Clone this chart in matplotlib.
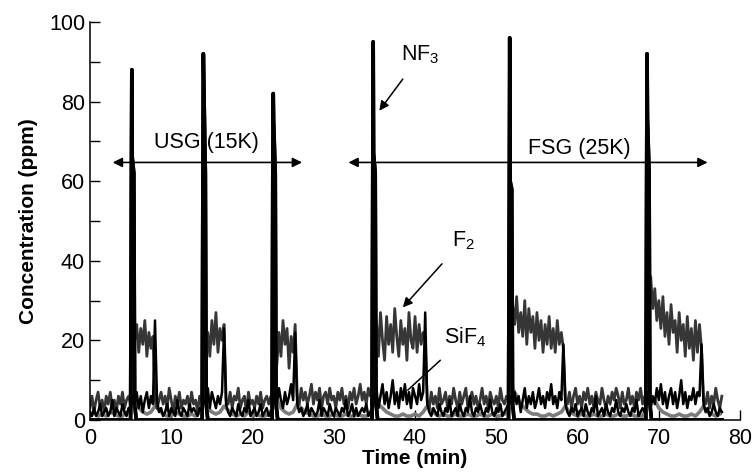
"""
NF3 remote clean of USG and FSG chambers
========================================

Gas concentrations measured in the exhaust during the clean cycles.
"""

import numpy as np
import matplotlib.pyplot as plt

#########################################################################
# Data
# -----------------------
#

# sampling grid of the FTIR traces (min)
time_fine = np.arange(0, 78, 0.25)
time_coarse = np.arange(0, 78, 0.5)

# F2, one row per minute (4 samples / min)
f2_ppm = [
    3, 6, 2, 5,  7, 3, 5, 2,  6, 4, 7, 3,  5, 2, 6, 4,  7, 3, 5, 6,
    4, 6, 20, 24,  17, 23, 19, 25,  16, 22, 18, 21,  5, 3, 5, 7,  4, 6, 3, 8,
    5, 2, 6, 4,  7, 3, 5, 4,  6, 3, 7, 4,  5, 2, 6, 5,  8, 18, 22, 16,
    25, 19, 27, 17,  23, 20, 24, 5,  4, 7, 3, 6,  5, 8, 3, 5,  6, 2, 7, 4,
    5, 3, 6, 4,  7, 3, 5, 6,  4, 6, 5, 8,  14, 22, 16, 25,  19, 23, 13, 21,
    17, 24, 6, 4,  8, 5, 7, 4,  6, 9, 4, 7,  5, 8, 3, 6,  7, 4, 8, 5,
    6, 3, 7, 5,  8, 4, 6, 3,  7, 5, 8, 4,  6, 9, 5, 7,  4, 8, 6, 7,
    18, 25, 16, 27,  20, 15, 26, 19,  24, 17, 28, 21,  16, 25, 19, 23,  15, 27, 20, 18,
    26, 17, 24, 19,  22, 20, 5, 3,  7, 4, 6, 3,  8, 4, 5, 7,  3, 6, 4, 8,
    5, 3, 7, 4,  6, 8, 3, 5,  7, 4, 6, 3,  5, 8, 4, 6,  3, 7, 5, 4,
    6, 3, 8, 5,  4, 6, 5, 20,  29, 24, 31, 22,  27, 21, 30, 19,  28, 22, 26, 18,
    27, 20, 25, 17,  24, 19, 26, 18,  23, 17, 25, 19,  22, 18, 5, 4,  7, 3, 6, 8,
    4, 6, 3, 7,  5, 8, 4, 6,  3, 7, 5, 4,  8, 5, 3, 6,  4, 7, 5, 8,
    6, 3, 7, 4,  5, 8, 4, 6,  3, 7, 5, 8,  4, 6, 5, 32,  36, 28, 33, 25,
    30, 23, 31, 21,  27, 19, 29, 22,  25, 17, 27, 20,  24, 16, 26, 18,  23, 15, 25, 17,
    24, 18, 5, 4,  7, 3, 6, 4,  8, 5, 3, 6,
]

# SiF4, one row per minute (4 samples / min)
sif4_ppm = [
    2, 1, 3, 1,  2, 4, 1, 2,  3, 1, 2, 5,  1, 3, 2, 1,  4, 2, 1, 3,
    2, 6, 4, 7,  3, 6, 2, 5,  7, 3, 6, 4,  25, 5, 2, 3,  1, 2, 4, 1,
    3, 2, 1, 5,  2, 1, 3, 2,  1, 4, 2, 3,  2, 1, 3, 2,  6, 4, 8, 3,
    7, 5, 3, 6,  4, 7, 23, 4,  2, 1, 3, 2,  1, 4, 2, 1,  3, 2, 5, 1,
    2, 3, 1, 2,  4, 1, 2, 3,  1, 2, 3, 7,  4, 8, 5, 3,  7, 4, 6, 9,
    5, 22, 4, 2,  3, 1, 2, 4,  1, 3, 2, 1,  2, 5, 1, 3,  2, 1, 4, 2,
    1, 3, 2, 1,  3, 2, 5, 1,  2, 4, 1, 3,  1, 2, 3, 2,  4, 1, 2, 3,
    5, 8, 3, 6,  9, 4, 7, 3,  6, 10, 4, 7,  3, 8, 5, 9,  4, 7, 3, 8,
    6, 4, 9, 5,  7, 27, 4, 2,  1, 3, 2, 1,  4, 2, 1, 3,  2, 5, 1, 2,
    3, 1, 4, 2,  1, 3, 2, 6,  2, 1, 3, 2,  4, 2, 1, 3,  2, 5, 2, 1,
    3, 2, 4, 1,  2, 3, 4, 6,  3, 7, 4, 6,  2, 5, 8, 3,  6, 4, 7, 3,
    5, 8, 4, 6,  3, 7, 5, 9,  4, 6, 3, 7,  5, 19, 4, 2,  1, 3, 2, 4,
    1, 2, 3, 1,  4, 2, 1, 3,  2, 6, 1, 2,  3, 1, 4, 2,  1, 3, 2, 5,
    2, 1, 3, 2,  4, 2, 1, 3,  2, 5, 1, 2,  3, 2, 4, 7,  3, 6, 4, 8,
    5, 9, 4, 7,  3, 6, 8, 4,  7, 3, 6, 10,  4, 7, 3, 6,  5, 8, 4, 7,
    6, 19, 4, 2,  3, 1, 2, 4,  2, 1, 3, 2,
]

# unlabelled light trace (2 samples / min)
other_ppm = [
    1, 2,  1, 1.5,  1, 2,  1.5, 1,  1, 2,  1.5, 4,  3, 2,  1.5, 2,  3.5, 2.5,  1.5, 1,
    1, 2,  1.5, 1,  1, 1.5,  1, 2,  4.5, 3,  2, 1.5,  2, 3.5,  2.5, 1.5,  1, 1.5,  1, 2,
    1, 1.5,  1, 1,  1.5, 3,  5, 3,  2, 1.5,  2, 4,  3, 2,  1.5, 1,  1, 1.5,  1, 1,
    1.5, 1,  1, 1.5,  1, 1,  1.5, 1,  1, 1.5,  5, 4,  3, 2,  1.5, 1,  1, 1.5,  1, 1,
    1.5, 1,  2, 3.5,  2.5, 1.5,  1, 1.5,  1, 1,  1.5, 1,  1, 1.5,  1, 1,  1.5, 1,  1, 1.5,
    1, 1,  1.5, 2,  8, 6,  4, 3,  2, 1.5,  1.5, 1,  1, 1.5,  1, 1.5,  2, 3.5,  2, 1.5,
    1, 1.5,  1, 1,  1.5, 1,  1, 1.5,  1, 1,  1.5, 1,  1, 1.5,  1, 1,  1, 3,  6, 5,
    3, 2,  1.5, 1,  1, 1.5,  1, 1,  1.5, 1,  2, 3.5,  2, 1.5,  1, 1.5,
]

# NF3 injection spikes
nf3_time = [
    0, 5.0, 5.1, 5.15, 5.2, 5.4, 5.5, 5.7,
    13.8, 13.9, 13.95, 14.0, 14.2, 14.3, 14.5,
    22.4, 22.5, 22.55, 22.6, 22.8, 22.9, 23.1,
    34.7, 34.8, 34.85, 34.9, 35.1, 35.2, 35.4,
    51.5, 51.6, 51.65, 51.7, 51.9, 52.0, 52.2,
    68.4, 68.5, 68.55, 68.6, 68.8, 68.9, 69.1, 77.8,
]
nf3_ppm = [
    0, 0, 64, 88, 66, 62, 4, 0,
    0, 64, 92, 86, 62, 4, 0,
    0, 64, 82, 75, 62, 4, 0,
    0, 64, 95, 67, 62, 4, 0,
    0, 60, 96, 60, 58, 4, 0,
    0, 64, 92, 76, 62, 4, 0, 0,
]

#########################################################################
# Plot
# ----
#

plt.rcParams['font.family'] = ['Liberation Sans', 'DejaVu Sans']
plt.rcParams['mathtext.fontset'] = 'custom'
plt.rcParams['mathtext.rm'] = 'Liberation Sans'
plt.rcParams['mathtext.default'] = 'rm'

fig = plt.figure(figsize=(7.56, 4.76), dpi=100)
ax = fig.add_axes([0.119, 0.1176, 0.86, 0.8364])

ax.plot(nf3_time, nf3_ppm, color='black', lw=2.6, zorder=1)
ax.plot(time_coarse, other_ppm, color='#7c7c7c', lw=2.6, zorder=2)
ax.plot(time_fine, f2_ppm, color='#363636', lw=2.0, zorder=3)
ax.plot(time_fine, sif4_ppm, color='black', lw=1.8, zorder=4)
# spikes drawn again on top of the other traces
ax.plot(nf3_time, nf3_ppm, color='black', lw=2.6, zorder=5)

ax.set_xlim(0, 80)
ax.set_ylim(0, 100)
ax.set_xticks(np.arange(0, 81, 10))
ax.set_yticks(np.arange(0, 101, 20))
ax.set_yticks(np.arange(10, 100, 20), minor=True)
ax.tick_params(which='both', direction='in', length=7, width=1, labelsize=15.5)
ax.tick_params(axis='x', pad=6)
ax.spines['top'].set_visible(False)
ax.spines['right'].set_visible(False)
for side in ['left', 'bottom']:
    ax.spines[side].set_linewidth(1.1)
    ax.spines[side].set_zorder(6)

ax.set_xlabel('Time (min)', fontsize=15, fontweight='bold', labelpad=0)
ax.set_ylabel('Concentration (ppm)', fontsize=15, fontweight='bold', labelpad=8)

# process windows
arrow_kw = dict(arrowstyle='<|-|>', color='black', lw=1.2, mutation_scale=14,
                shrinkA=0, shrinkB=0)
ax.annotate('', xy=(2.8, 64.7), xytext=(26.1, 64.7), arrowprops=arrow_kw)
ax.annotate('', xy=(31.8, 64.7), xytext=(76.0, 64.7), arrowprops=arrow_kw)
ax.text(14.3, 69.8, 'USG (15K)', fontsize=15.5, ha='center', va='center')
ax.text(60.2, 68.3, 'FSG (25K)', fontsize=15.5, ha='center', va='center')

# species labels
ax.annotate('NF$_3$', xy=(35.6, 77.7), xytext=(40.7, 91.7), fontsize=15.5,
            ha='center', va='center',
            arrowprops=dict(arrowstyle='-|>', color='black', lw=1.1,
                            mutation_scale=14, shrinkA=9, shrinkB=0))
ax.annotate('F$_2$', xy=(38.5, 28.3), xytext=(45.9, 45.1), fontsize=15.5,
            ha='center', va='center',
            arrowprops=dict(arrowstyle='-|>', color='black', lw=1.1,
                            mutation_scale=14, shrinkA=9, shrinkB=0))
ax.annotate('SiF$_4$', xy=(39.1, 7.5), xytext=(46.2, 20.8), fontsize=15.5,
            ha='center', va='center',
            arrowprops=dict(arrowstyle='-', color='black', lw=1.1,
                            shrinkA=9, shrinkB=0))

fig.savefig('out.png', dpi=100)
